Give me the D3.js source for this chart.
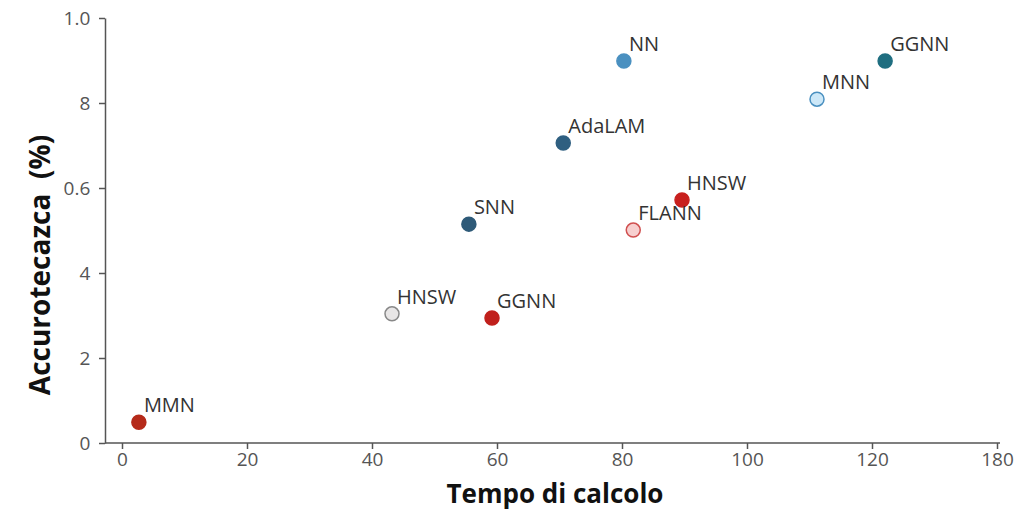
<!DOCTYPE html>
<html><head><meta charset="utf-8">
<script src="https://cdn.jsdelivr.net/npm/d3@7"></script>
<style>body{margin:0;background:#fff}</style></head>
<body><script>
var names = ["MMN","HNSW","GGNN","SNN","AdaLAM","NN","HNSW","FLANN","MNN","GGNN"];
var times = [2.7,43.2,59.2,55.5,70.6,80.3,89.6,81.8,111.2,122.1];
var accs = [0.49,3.04,2.94,5.15,7.06,8.99,5.72,5.01,8.09,8.99];
var fills = ["#b52a1a","#e8e6e6","#c0201c","#2e5a78","#2f5f80","#4a90c0","#c8201e","#f7cfcf","#cde8f8","#1f6e80"];
var strokes = ["#b52a1a","#888","#c0201c","#2e5a78","#2f5f80","#4a90c0","#c8201e","#d05050","#4a90c0","#1f6e80"];
var xTicks = [0,20,40,60,80,100,120,140];
var xLabels = ["0","20","40","60","80","100","120","180"];
var yTicks = [0,2,4,6,8,10];
var yLabels = ["0","2","4","0.6","8","1.0"];

var svg = d3.select("body").append("svg").attr("width",1024).attr("height",513);
var x = d3.scaleLinear().domain([0,140]).range([122,997]);
var y = d3.scaleLinear().domain([0,10]).range([443,18]);

var xa = svg.append("g").attr("transform","translate(0,443)")
  .call(d3.axisBottom(x).tickValues(xTicks).tickFormat(function(d,i){return xLabels[i];}).tickSize(6).tickSizeOuter(0));
xa.select(".domain").attr("d","M105,0H1000");
var ya = svg.append("g").attr("transform","translate(105,0)")
  .call(d3.axisLeft(y).tickValues(yTicks).tickFormat(function(d,i){return yLabels[i];}).tickSize(6).tickSizeOuter(0));
svg.selectAll(".domain,.tick line").attr("stroke","#555").attr("stroke-width",1.5);
svg.selectAll(".tick text").attr("fill","#555").style("font-family","Open Sans").style("font-size","19px");
xa.selectAll(".tick text").attr("dy","0.75em");
ya.selectAll(".tick text").attr("dx","-0.3em");

svg.selectAll("circle").data(names).enter().append("circle")
  .attr("cx",function(d,i){return x(times[i]);})
  .attr("cy",function(d,i){return y(accs[i]);})
  .attr("r",7).attr("fill",function(d,i){return fills[i];})
  .attr("stroke",function(d,i){return strokes[i];}).attr("stroke-width",1.5);

svg.selectAll("text.lab").data(names).enter().append("text").attr("class","lab")
  .attr("x",function(d,i){return x(times[i])+5;})
  .attr("y",function(d,i){return y(accs[i])-10;})
  .style("font-family","Open Sans").style("font-size","20px").attr("fill","#333")
  .text(function(d){return d;});

svg.append("text").attr("x",555).attr("y",503).attr("text-anchor","middle")
  .style("font-family","Open Sans").style("font-weight","bold").style("font-size","26px").attr("fill","#111")
  .text("Tempo di calcolo");
svg.append("text").attr("transform","translate(50,265) rotate(-90)").attr("text-anchor","middle")
  .style("font-family","Open Sans").style("font-weight","bold").style("font-size","28px").attr("fill","#111")
  .attr("xml:space","preserve").text("Accurotecazca  (%)");
</script></body></html>
